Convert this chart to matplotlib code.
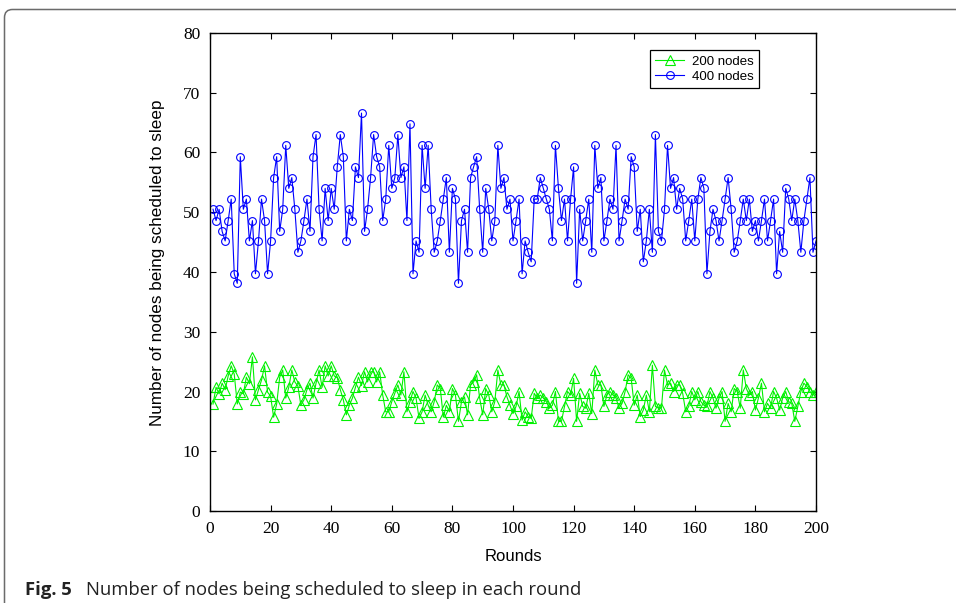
import numpy as np
import matplotlib
matplotlib.use("Agg")
import matplotlib.pyplot as plt
from matplotlib.patches import FancyBboxPatch
from matplotlib.transforms import IdentityTransform

# Sleep-scheduled node counts per round
rounds = np.arange(1, 201)

nodes_200 = [
    17.9, 20.7, 19.6, 21.4, 20.3, 22.6, 24.3, 22.9, 17.9, 19.9,
    19.6, 22.4, 21.3, 25.8, 18.6, 20.3, 21.9, 24.3, 19.9, 19.2,
    15.7, 17.9, 22.4, 23.6, 18.9, 20.7, 23.6, 21.6, 20.9, 17.7,
    18.6, 20.3, 21.4, 18.9, 21.4, 23.6, 20.7, 24.3, 22.6, 24.3,
    22.6, 22.3, 20.3, 18.6, 16.1, 17.7, 18.9, 20.7, 22.4, 21.0,
    23.3, 21.6, 23.3, 23.3, 21.6, 23.3, 19.4, 16.6, 16.6, 18.3,
    19.7, 21.1, 19.4, 23.3, 16.6, 18.3, 20.0, 18.9, 15.5, 16.6,
    19.4, 17.7, 16.6, 18.3, 21.1, 20.5, 15.7, 17.7, 16.6, 20.5,
    19.4, 15.0, 18.3, 19.1, 16.1, 21.1, 21.6, 22.8, 18.9, 16.1,
    20.5, 19.4, 16.6, 18.3, 23.6, 21.1, 21.1, 19.1, 17.7, 16.3,
    17.5, 20.0, 15.2, 16.6, 15.8, 15.5, 19.7, 18.9, 19.4, 18.9,
    18.3, 17.2, 17.7, 20.0, 15.0, 15.0, 17.5, 20.0, 19.4, 22.2,
    15.0, 19.7, 17.5, 17.2, 19.7, 16.3, 23.6, 21.1, 21.1, 17.5,
    19.4, 20.0, 19.4, 18.9, 17.2, 18.0, 20.0, 22.8, 22.2, 17.7,
    19.4, 15.8, 16.9, 19.4, 16.6, 24.4, 17.5, 17.2, 17.2, 23.6,
    21.1, 21.4, 20.0, 21.1, 21.1, 19.7, 16.6, 17.5, 20.0, 18.6,
    20.0, 18.3, 17.7, 17.5, 20.0, 18.9, 17.2, 18.9, 20.0, 15.0,
    18.0, 16.6, 20.5, 20.0, 17.2, 23.6, 20.5, 19.4, 20.0, 16.9,
    18.9, 21.4, 16.6, 18.0, 17.2, 20.0, 18.9, 16.9, 18.9, 20.0,
    18.3, 18.0, 15.0, 17.5, 20.0, 21.4, 20.8, 20.0, 19.4, 20.0,
]

nodes_400 = [
    50.5, 48.6, 50.5, 46.8, 45.2, 48.6, 52.2, 39.7, 38.1, 59.3,
    50.5, 52.2, 45.2, 48.6, 39.7, 45.2, 52.2, 48.6, 39.7, 45.2,
    55.8, 59.3, 46.8, 50.5, 61.2, 54.0, 55.8, 50.5, 43.3, 45.2,
    48.6, 52.2, 46.8, 59.3, 63.0, 50.5, 45.2, 54.0, 48.6, 54.0,
    50.5, 57.6, 63.0, 59.3, 45.2, 50.5, 48.6, 57.6, 55.8, 66.6,
    46.8, 50.5, 55.8, 63.0, 59.3, 57.6, 48.6, 52.2, 61.2, 54.0,
    55.8, 63.0, 55.8, 57.6, 48.6, 64.8, 39.7, 45.2, 43.3, 61.2,
    54.0, 61.2, 50.5, 43.3, 45.2, 48.6, 52.2, 55.8, 43.3, 54.0,
    52.2, 38.1, 48.6, 50.5, 43.3, 55.8, 57.6, 59.3, 50.5, 43.3,
    54.0, 50.5, 45.2, 48.6, 61.2, 54.0, 55.8, 50.5, 52.2, 45.2,
    48.6, 52.2, 39.7, 45.2, 43.3, 41.7, 52.2, 52.2, 55.8, 54.0,
    52.2, 50.5, 45.2, 61.2, 54.0, 48.6, 52.2, 45.2, 52.2, 57.6,
    38.1, 50.5, 45.2, 48.6, 52.2, 43.3, 61.2, 54.0, 55.8, 45.2,
    48.6, 52.2, 50.5, 61.2, 45.2, 48.6, 52.2, 50.5, 59.3, 57.6,
    46.8, 50.5, 41.7, 45.2, 50.5, 43.3, 63.0, 46.8, 45.2, 50.5,
    61.2, 54.0, 55.8, 50.5, 54.0, 52.2, 45.2, 48.6, 52.2, 45.2,
    52.2, 55.8, 54.0, 39.7, 46.8, 50.5, 48.6, 45.2, 48.6, 52.2,
    55.8, 50.5, 43.3, 45.2, 48.6, 52.2, 48.6, 52.2, 46.8, 48.6,
    45.2, 48.6, 52.2, 45.2, 48.6, 52.2, 39.7, 46.8, 43.3, 54.0,
    52.2, 48.6, 52.2, 48.6, 43.3, 48.6, 52.2, 55.8, 43.3, 45.2,
]

x_ticks = np.arange(0, 201, 20)
y_ticks = np.arange(0, 81, 10)

W, H = 956, 603
fig = plt.figure(figsize=(W / 100, H / 100), dpi=100)
fig.patch.set_facecolor("white")

# page frame with rounded top-left corner
frame = FancyBboxPatch((4.5, -40), 1200, H - 9.5 + 40,
                       boxstyle="round,pad=0,rounding_size=8",
                       transform=IdentityTransform(), fill=False,
                       edgecolor="#6b6b6b", linewidth=1.1)
fig.add_artist(frame)

ax = fig.add_axes([210 / W, 1 - 511 / H, (816 - 210) / W, (511 - 33) / H])

ax.plot(rounds, nodes_200, color="#00f000", linewidth=0.8, marker="^",
        markersize=6.8, markerfacecolor="none", markeredgecolor="#00f000",
        markeredgewidth=0.8, label="200 nodes")
ax.plot(rounds, nodes_400, color="#0000ff", linewidth=0.8, marker="o",
        markersize=5.6, markerfacecolor="none", markeredgecolor="#0000ff",
        markeredgewidth=0.8, label="400 nodes")

ax.set_xlim(0, 200)
ax.set_ylim(0, 80)
ax.set_xticks(x_ticks)
ax.set_yticks(y_ticks)

serif = "Liberation Serif"
sans = "Liberation Sans"
ax.tick_params(direction="in", length=4.5, width=0.8, top=True, right=True,
               labelsize=12.5, pad=7)
for lab in ax.get_xticklabels() + ax.get_yticklabels():
    lab.set_fontfamily(serif)
for s in ax.spines.values():
    s.set_linewidth(1.0)

ax.set_xlabel("Rounds", fontsize=12, family=sans)
ax.set_ylabel("Number of nodes being scheduled to sleep", fontsize=12.3, family=sans)
ax.xaxis.set_label_coords((513 - 210) / 606, (511 - 549) / 478)
ax.yaxis.set_label_coords((165 - 210) / 606, (511 - 263) / 478)

leg = ax.legend(loc="upper right", bbox_to_anchor=((759 - 210) / 606, (511 - 50) / 478),
                borderaxespad=0, fancybox=False, framealpha=1, edgecolor="black",
                prop={"family": sans, "size": 9.5}, handlelength=2.2,
                handletextpad=0.6, borderpad=0.4, labelspacing=0.25)
leg.get_frame().set_linewidth(0.9)

# caption
cap_y = 1 - 595 / H
fig.text(25 / W, cap_y, "Fig. 5", fontsize=13.3, fontweight="bold",
         family="Open Sans", va="baseline", ha="left", color="#222222")
fig.text(86 / W, cap_y, "Number of nodes being scheduled to sleep in each round",
         fontsize=13.3, family="Open Sans", va="baseline", ha="left", color="#222222")

fig.savefig("out.png", dpi=100)
